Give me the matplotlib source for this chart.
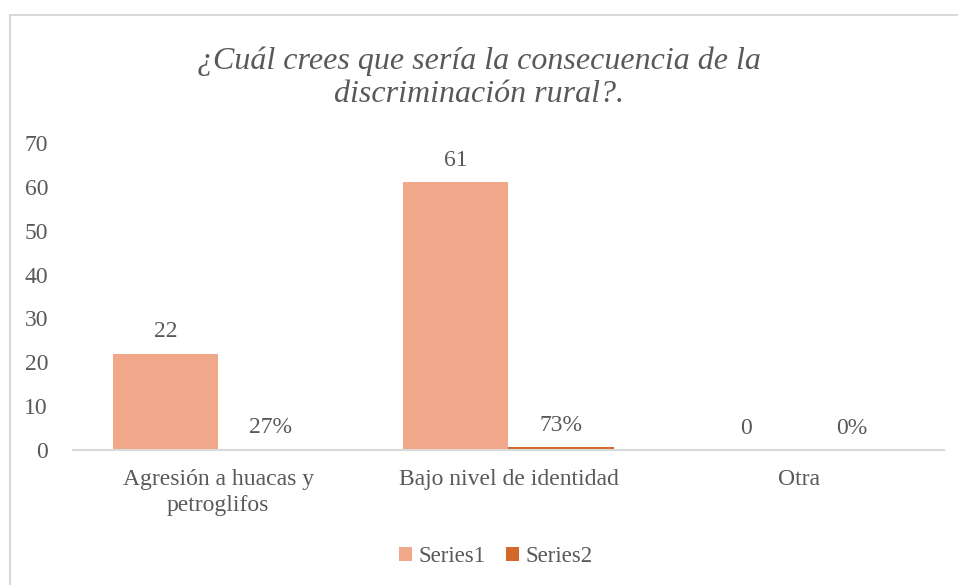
import matplotlib
matplotlib.use("Agg")
import matplotlib.pyplot as plt
from matplotlib.patches import Rectangle
import numpy as np

categories = ["Agresión a huacas y\npetroglifos", "Bajo nivel de identidad", "Otra"]
series1 = [22, 61, 0]
series2 = [0.27, 0.73, 0.0]
series_names = ["Series1", "Series2"]
title = "¿Cuál crees que sería la consecuencia de la\ndiscriminación rural?."

c1 = "#F1A88A"
c2 = "#D2692B"
txt = "#595959"

plt.rcParams["font.family"] = ["Liberation Serif", "DejaVu Serif"]

fig = plt.figure(figsize=(9.58, 5.85), dpi=100)
fig.patches.append(Rectangle((10 / 958, -0.05), 1.1, 1 - 15 / 585 + 0.05,
                             transform=fig.transFigure, fill=False,
                             edgecolor="#D9D9D9", linewidth=1.5, zorder=0))

ax = fig.add_axes([73 / 958, 1 - 450 / 585, (944 - 73) / 958, (450 - 143) / 585])
x = np.arange(len(categories))
w = 0.3635
b1 = ax.bar(x - w / 2, series1, w, color=c1, label=series_names[0], zorder=2)
b2 = ax.bar(x + w / 2, series2, w, color=c2, label=series_names[1], zorder=2)

for rect, v in zip(b1, series1):
    ax.annotate(f"{v}", (rect.get_x() + rect.get_width() / 2, v),
                xytext=(0, 8), textcoords="offset points", ha="center",
                va="bottom", fontsize=17, color=txt)
for rect, v in zip(b2, series2):
    ax.annotate(f"{v:.0%}", (rect.get_x() + rect.get_width() / 2, v),
                xytext=(0, 8), textcoords="offset points", ha="center",
                va="bottom", fontsize=17, color=txt)

ax.set_xlim(-0.5, len(categories) - 0.5)
ax.set_ylim(0, 70)
ax.set_yticks(range(0, 71, 10))
ax.set_xticks(x)
ax.set_xticklabels(categories, fontsize=17, color=txt, linespacing=1.3)
ax.tick_params(axis="y", labelsize=17, labelcolor=txt, length=0, pad=18)
ax.tick_params(axis="x", length=0, pad=14)
for s in ["top", "right", "left"]:
    ax.spines[s].set_visible(False)
ax.spines["bottom"].set_color("#D9D9D9")
ax.spines["bottom"].set_linewidth(1.5)
ax.spines["bottom"].set_zorder(3)

fig.text(0.5, 1 - 78 / 585, title, ha="center", va="center", fontsize=23,
         style="italic", color=txt, linespacing=1.2)

fig.legend(handles=[b1, b2], loc="center", bbox_to_anchor=(0.518, 1 - 557 / 585),
           ncol=2, frameon=False, fontsize=16.5, labelcolor=txt,
           handlelength=0.55, handleheight=0.55, handletextpad=0.3, columnspacing=0.9)

fig.savefig("out.png", dpi=100, facecolor="white")
